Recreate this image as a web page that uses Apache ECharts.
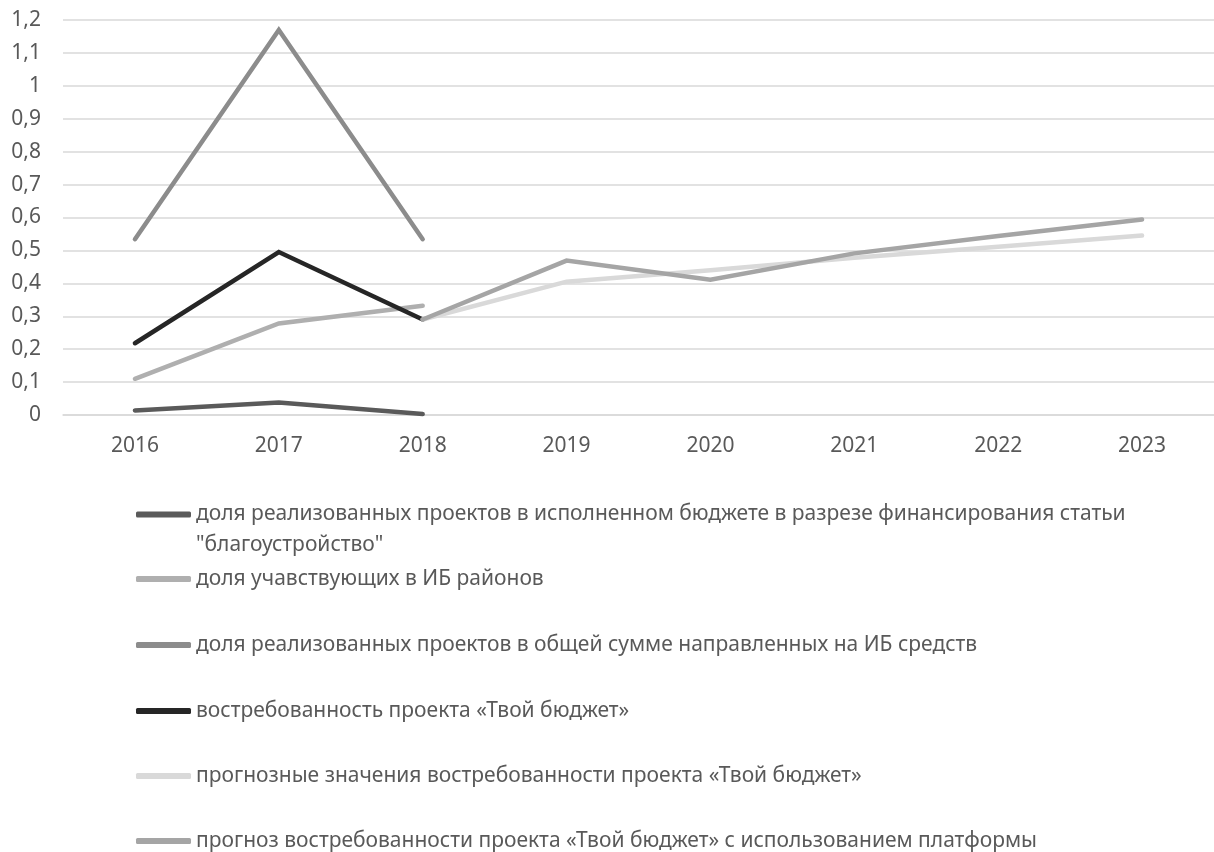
<!DOCTYPE html>
<html>
<head>
<meta charset="utf-8">
<script src="https://cdn.jsdelivr.net/npm/echarts@6/dist/echarts.min.js"></script>
<style>
html,body{margin:0;padding:0;background:#fff;}
#chart{width:1214px;height:852px;}
</style>
</head>
<body>
<div id="chart"></div>
<script>
const years = ['2016','2017','2018','2019','2020','2021','2022','2023'];
const seriesNames = [
  'доля реализованных проектов в исполненном бюджете в разрезе финансирования статьи "благоустройство"',
  'доля учавствующих в ИБ районов',
  'доля реализованных проектов в общей сумме направленных на ИБ средств',
  'востребованность проекта «Твой бюджет»',
  'прогнозные значения востребованности проекта «Твой бюджет»',
  'прогноз востребованности проекта «Твой бюджет» с использованием платформы'
];
const sharePlanned = [0.014, 0.038, 0.003, null, null, null, null, null];
const shareDistricts = [0.11, 0.278, 0.332, null, null, null, null, null];
const shareTotal = [0.534, 1.17, 0.534, null, null, null, null, null];
const demand = [0.218, 0.495, 0.29, null, null, null, null, null];
const forecast = [null, null, 0.29, 0.405, 0.44, 0.478, 0.511, 0.545];
const forecastPlatform = [null, null, 0.29, 0.469, 0.411, 0.491, 0.544, 0.594];
const yTicks = [0, 0.1, 0.2, 0.3, 0.4, 0.5, 0.6, 0.7, 0.8, 0.9, 1, 1.1, 1.2];

const dataSets = [sharePlanned, shareDistricts, shareTotal, demand, forecast, forecastPlatform];
const colors = ['#5a5a5a', '#afafaf', '#8c8c8c', '#262626', '#d9d9d9', '#a5a5a5'];
const legendCenters = [514.5, 579, 645, 711, 776, 841];
const font = 'Noto Sans';
const fs = 21;
const lh = 31;

const chart = echarts.init(document.getElementById('chart'), null, {renderer: 'canvas'});
const series = dataSets.map((d, i) => ({
  name: seriesNames[i],
  type: 'line',
  data: d,
  showSymbol: false,
  symbol: 'none',
  connectNulls: false,
  lineStyle: {width: 4.5, color: colors[i], cap: 'round', join: 'miter'},
  itemStyle: {color: colors[i]},
  z: 2 + i
}));
const legends = seriesNames.map((n, i) => {
  const twoLine = n.indexOf('"благоустройство"') >= 0;
  return {
    data: [n],
    left: 136,
    top: twoLine ? legendCenters[i] - lh * 1.5 : legendCenters[i] - lh / 2,
    orient: 'vertical',
    icon: 'roundRect',
    itemWidth: 55,
    itemHeight: 6,
    itemGap: 0,
    padding: 0,
    formatter: function (name) {
      if (name.indexOf(' "благоустройство"') >= 0) {
        return ' \n' + name.replace(' "благоустройство"', '\n"благоустройство"');
      }
      return name;
    },
    textStyle: {fontFamily: font, fontSize: fs, color: '#595959', lineHeight: lh}
  };
});

chart.setOption({
  animation: false,
  backgroundColor: '#fff',
  grid: {left: 63, top: 20, width: 1162, height: 395, containLabel: false},
  xAxis: {
    type: 'category',
    data: years,
    boundaryGap: true,
    axisLine: {show: true, lineStyle: {color: '#d9d9d9', width: 1.5}},
    axisTick: {show: false},
    axisLabel: {fontFamily: font, fontSize: fs, color: '#595959', margin: 21}
  },
  yAxis: {
    type: 'value',
    min: yTicks[0],
    max: yTicks[yTicks.length - 1],
    interval: 0.1,
    axisLine: {show: false},
    axisTick: {show: false},
    splitLine: {lineStyle: {color: '#d9d9d9', width: 1.5}},
    axisLabel: {
      fontFamily: font, fontSize: fs, color: '#595959', margin: 22,
      formatter: v => String(+v.toFixed(1)).replace('.', ',')
    }
  },
  legend: legends,
  series: series
});
</script>
</body>
</html>
